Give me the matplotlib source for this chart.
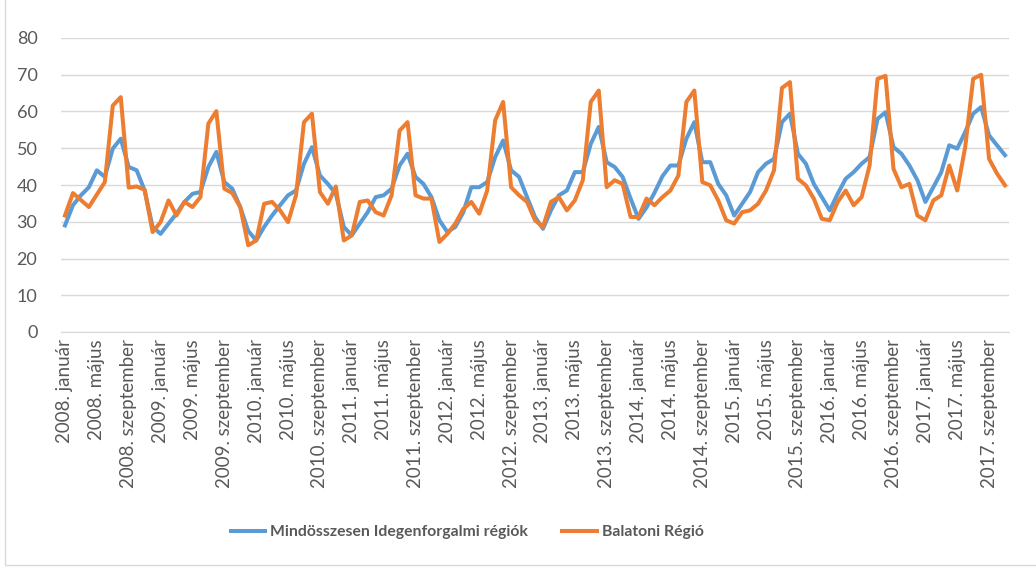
import matplotlib.pyplot as plt
from matplotlib.patches import Rectangle

# Adatok: 2008. január - 2017. november, havonta
evek = list(range(2008, 2018))
honapok = ["január", "február", "március", "április", "május", "június",
           "július", "augusztus", "szeptember", "október", "november", "december"]

mindosszesen = [
    29.0, 34.5, 37.2, 39.4, 44.0, 42.2, 49.9, 52.6, 44.9, 44.0, 38.5, 28.6,
    26.7, 29.5, 32.2, 35.4, 37.6, 38.1, 44.9, 49.0, 40.8, 39.0, 34.0, 27.5,
    24.9, 28.6, 31.7, 34.5, 37.2, 38.5, 45.8, 50.3, 42.6, 40.3, 37.6, 28.6,
    26.3, 29.5, 32.6, 36.7, 37.2, 39.0, 45.3, 48.5, 42.2, 40.3, 36.7, 30.4,
    27.2, 28.6, 32.6, 39.4, 39.4, 40.8, 47.6, 52.1, 44.0, 42.2, 36.7, 31.3,
    28.1, 33.1, 37.2, 38.5, 43.5, 43.5, 51.2, 55.8, 46.2, 44.9, 42.2, 36.3,
    30.8, 33.9, 37.9, 42.4, 45.3, 45.3, 52.6, 57.1, 46.2, 46.2, 40.3, 37.2,
    31.7, 34.9, 38.1, 43.5, 45.8, 47.1, 57.1, 59.4, 48.5, 45.8, 40.3, 36.7,
    33.1, 37.6, 41.7, 43.5, 45.8, 47.6, 58.0, 59.8, 50.3, 48.5, 45.3, 41.3,
    35.4, 39.4, 43.5, 50.8, 49.9, 54.4, 59.4, 61.2, 53.5, 50.8, 48.1,
]
balaton = [
    31.7, 37.8, 35.9, 34.0, 37.4, 40.8, 61.6, 63.9, 39.3, 39.6, 38.7, 27.2,
    29.9, 35.8, 31.7, 35.4, 34.0, 36.7, 56.7, 60.1, 39.0, 37.8, 34.0, 23.6,
    24.9, 34.9, 35.4, 33.1, 29.9, 37.2, 57.1, 59.4, 38.1, 34.9, 39.6, 24.9,
    26.3, 35.4, 35.8, 32.6, 31.7, 37.2, 54.8, 57.1, 37.2, 36.3, 36.3, 24.5,
    26.7, 29.5, 33.5, 35.4, 32.2, 38.5, 57.6, 62.6, 39.4, 37.2, 35.4, 30.4,
    28.6, 35.4, 36.7, 33.1, 35.8, 41.3, 62.6, 65.7, 39.4, 41.3, 40.3, 31.3,
    31.3, 36.3, 34.5, 36.7, 38.5, 42.6, 62.6, 65.7, 40.8, 39.9, 35.8, 30.4,
    29.5, 32.6, 33.1, 34.9, 38.5, 44.0, 66.4, 68.0, 41.7, 39.9, 36.3, 30.8,
    30.4, 35.4, 38.5, 34.5, 36.7, 45.3, 68.9, 69.7, 44.4, 39.4, 40.3, 31.7,
    30.4, 35.8, 37.2, 45.3, 38.5, 50.3, 68.9, 70.0, 47.1, 43.1, 39.9,
]

cimkek = [str(e) + ". " + h for e in evek for h in honapok][:len(balaton)]

SZURKE = "#595959"
plt.rcParams['font.family'] = ['Lato', 'DejaVu Sans']

fig = plt.figure(figsize=(10.36, 5.68), dpi=100)
ax = fig.add_axes([61 / 1036, 1 - 332 / 568, 948 / 1036, 294 / 568])

x = list(range(len(balaton)))
ax.plot(x, mindosszesen, color="#5B9BD5", linewidth=2.9,
        label="Mindösszesen Idegenforgalmi régiók")
ax.plot(x, balaton, color="#ED7D31", linewidth=2.9,
        label="Balatoni Régió")

ax.set_xlim(-0.5, len(balaton) - 0.5)
ax.set_ylim(0, 80)
ax.set_yticks(range(0, 81, 10))
ax.set_xticks(x[::4])
ax.set_xticklabels(cimkek[::4], rotation=90, fontsize=13.5, color=SZURKE)
ax.tick_params(axis="y", labelsize=13, colors=SZURKE, length=0, pad=17)
ax.tick_params(axis="x", length=0, pad=5)
ax.grid(True, axis="y", color="#d9d9d9", linewidth=1)
ax.set_axisbelow(True)
for s in ["top", "right", "left"]:
    ax.spines[s].set_visible(False)
ax.spines["bottom"].set_color("#d9d9d9")

leg = fig.legend(loc="center", bbox_to_anchor=(0.451, 1 - 532 / 568), ncol=2,
                 frameon=False, handlelength=2.2, columnspacing=2.2,
                 handletextpad=0.3, prop={"weight": "bold", "size": 11.3})
for t in leg.get_texts():
    t.set_color(SZURKE)

# keret
fig.patches.append(Rectangle((5 / 1036, 3 / 568), 1.1, 1.1, transform=fig.transFigure,
                             fill=False, edgecolor="#d9d9d9", linewidth=1))

fig.savefig("out.png", dpi=100)
